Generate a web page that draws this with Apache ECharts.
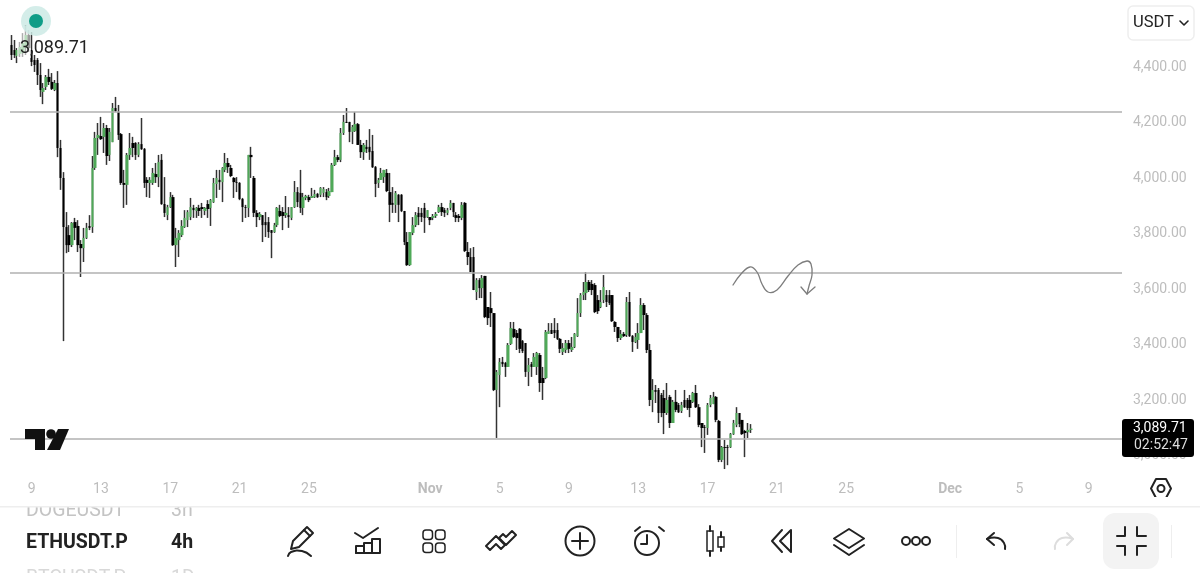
<!DOCTYPE html>
<html>
<head>
<meta charset="utf-8">
<title>ETHUSDT.P 4h</title>
<style>
html,body{margin:0;padding:0;background:#fff;}
#main{width:1200px;height:573px;}
</style>
<script src="https://cdn.jsdelivr.net/npm/echarts@6/dist/echarts.min.js"></script>
</head>
<body>
<div id="main"></div>
<script>
// 4h candles, first bar is Oct 7 20:00
var opens = [
4472,4454,4432,4440,4443,4461,4508,4454,4418,4418,
4364,4303,4321,4357,4339,4310,4335,4101,3993,3816,
3787,3751,3834,3820,3755,3740,3777,3820,3816,4029,
4137,4144,4141,4173,4076,4122,4245,4231,4151,3975,
3968,4076,4119,4119,4076,4115,4097,3986,3975,3975,
4007,3996,4058,3899,3859,3888,3924,3751,3769,3787,
3816,3841,3852,3885,3874,3885,3888,3874,3899,3885,
3906,3971,3986,3978,4022,4047,4029,3993,3978,3975,
3917,3888,3885,4076,3993,3867,3852,3859,3834,3834,
3805,3798,3823,3874,3870,3859,3859,3849,3888,3942,
3939,3885,3921,3924,3921,3924,3935,3932,3939,3942,
3928,3942,4040,4068,4058,4155,4195,4195,4159,4162,
4187,4112,4086,4105,4105,4090,4032,3975,3986,3996,
4011,3942,3903,3896,3932,3932,3874,3762,3679,3795,
3823,3867,3867,3885,3852,3852,3849,3856,3870,3888,
3877,3867,3885,3903,3859,3856,3849,3903,3726,3708,
3708,3582,3625,3596,3640,3528,3524,3506,3229,3283,
3330,3326,3312,3395,3449,3434,3449,3405,3398,3294,
3322,3312,3312,3355,3272,3272,3431,3445,3445,3445,
3413,3366,3373,3398,3373,3384,3423,3506,3571,3578,
3618,3611,3607,3553,3528,3553,3571,3571,3571,3474,
3456,3416,3431,3427,3546,3423,3402,3409,3434,3535,
3499,3373,3193,3229,3229,3211,3200,3146,3204,3110,
3186,3175,3153,3193,3193,3193,3186,3218,3167,3110,
3095,3092,3175,3178,3204,3117,2977,3023,3023,3023,
3070,3103,3146,3121,3081,3077,3085
];
var closes = [
4436,4436,4454,4465,4479,4508,4461,4411,4400,4364,
4310,4317,4357,4339,4314,4335,4101,3993,3816,3751,
3751,3831,3813,3751,3740,3777,3813,3813,4029,4137,
4148,4133,4173,4072,4159,4245,4234,4148,3975,3968,
4076,4101,4101,4076,4115,4097,3975,3975,3986,4011,
3996,4050,3899,3867,3888,3924,3751,3777,3795,3820,
3849,3870,3888,3877,3885,3874,3881,3885,3881,3913,
3975,3993,3978,4029,4047,4032,4000,3978,3975,3917,
3888,3885,4076,4068,3867,3852,3863,3823,3823,3798,
3795,3823,3885,3856,3856,3867,3852,3888,3942,3906,
3885,3924,3928,3913,3928,3935,3924,3957,3953,3924,
3946,4040,4068,4058,4155,4195,4191,4159,4177,4187,
4112,4086,4112,4097,4086,4032,3971,3986,4011,4022,
3946,3896,3896,3939,3896,3874,3762,3679,3798,3823,
3859,3852,3852,3849,3877,3841,3856,3863,3888,3870,
3867,3877,3903,3870,3849,3849,3896,3730,3708,3654,
3589,3625,3596,3632,3492,3488,3506,3229,3294,3330,
3322,3312,3391,3452,3420,3416,3377,3369,3294,3319,
3312,3348,3362,3254,3254,3438,3441,3431,3434,3413,
3377,3380,3398,3377,3384,3431,3506,3571,3582,3618,
3589,3589,3510,3513,3546,3600,3546,3542,3477,3456,
3416,3431,3423,3546,3423,3402,3420,3434,3535,3499,
3373,3193,3229,3222,3146,3146,3146,3193,3110,3186,
3157,3149,3175,3167,3164,3164,3218,3167,3103,3092,
3092,3175,3200,3204,3121,2977,3023,3020,3020,3070,
3110,3146,3106,3070,3074,3085,3089.71
];
var lows = [
4418,4425,4407,4429,4429,4436,4447,4396,4375,4328,
4285,4259,4310,4328,4310,4306,4068,3950,3405,3722,
3726,3744,3769,3726,3636,3690,3773,3805,3795,4022,
4076,4130,4083,4040,4054,4122,4231,4130,3968,3885,
3896,4058,4068,4058,4068,4094,3957,3924,3921,3968,
3975,3960,3896,3852,3841,3885,3748,3672,3708,3780,
3813,3816,3841,3849,3849,3856,3849,3859,3849,3820,
3903,3921,3950,3906,4014,4011,3996,3921,3942,3913,
3834,3849,3852,3993,3852,3816,3841,3762,3780,3777,
3704,3795,3816,3852,3805,3849,3813,3841,3885,3888,
3867,3859,3913,3906,3921,3921,3921,3924,3924,3913,
3921,3942,4036,4050,4050,4148,4191,4122,4115,4159,
4112,4065,4058,4083,4058,4029,3924,3957,3986,3975,
3942,3834,3867,3867,3834,3870,3751,3676,3676,3787,
3816,3823,3834,3795,3849,3823,3841,3849,3867,3856,
3852,3859,3877,3852,3834,3834,3841,3726,3679,3654,
3589,3553,3560,3560,3488,3463,3456,3225,3056,3167,
3312,3276,3312,3391,3416,3373,3362,3362,3276,3243,
3276,3312,3283,3222,3193,3268,3431,3431,3416,3409,
3362,3355,3362,3362,3366,3380,3420,3492,3553,3553,
3582,3571,3506,3503,3524,3542,3528,3535,3474,3438,
3402,3409,3420,3420,3420,3366,3398,3377,3434,3445,
3362,3171,3149,3182,3110,3131,3070,3139,3092,3110,
3149,3146,3146,3164,3157,3131,3182,3164,3095,3023,
3002,3067,3167,3178,3113,2969,2969,2944,2958,3020,
3067,3095,3095,3067,2987,3056,3074
];
var highs = [
4508,4490,4461,4483,4515,4544,4526,4519,4436,4425,
4407,4335,4364,4386,4371,4346,4378,4130,4014,3870,
3823,3834,3849,3841,3769,3813,3831,3859,4072,4159,
4191,4213,4191,4184,4173,4263,4285,4256,4155,4022,
4083,4155,4141,4122,4122,4209,4101,3996,3996,4029,
4047,4076,4079,3996,3896,3942,3932,3813,3805,3841,
3877,3877,3921,3896,3888,3896,3903,3888,3913,3917,
3993,4022,4022,4032,4083,4065,4040,3996,3996,3978,
3921,3896,4076,4105,4000,3877,3870,3859,3870,3852,
3805,3831,3888,3896,3888,3928,3888,3888,3982,3960,
4022,3939,3932,3932,3957,3950,3939,3960,3960,3953,
3957,4047,4094,4076,4173,4220,4245,4195,4184,4231,
4191,4130,4119,4130,4169,4148,4036,3993,4029,4022,
4025,4011,3960,3946,3935,3935,3874,3798,3798,3852,
3870,3888,3885,3903,3877,3852,3863,3870,3896,3903,
3885,3885,3913,3903,3870,3863,3906,3906,3762,3740,
3744,3632,3632,3643,3640,3528,3582,3506,3301,3344,
3348,3330,3398,3474,3474,3445,3452,3409,3398,3344,
3330,3362,3366,3362,3312,3445,3470,3470,3488,3470,
3416,3398,3409,3409,3420,3434,3560,3578,3618,3654,
3625,3625,3614,3571,3589,3643,3589,3589,3571,3477,
3456,3445,3438,3564,3582,3427,3434,3470,3560,3542,
3506,3395,3268,3247,3236,3218,3229,3254,3211,3193,
3229,3182,3186,3229,3200,3211,3222,3247,3178,3110,
3103,3182,3211,3222,3207,3121,3027,3049,3031,3074,
3121,3167,3146,3121,3085,3110,3106
];
var levels = [4232, 3652, 3054];
var tickDates = ['10-9','10-13','10-17','10-21','10-25','11-1','11-5','11-9','11-13','11-17','11-21','11-25','12-1','12-5','12-9'];
var tickLabels = ['9','13','17','21','25','Nov','5','9','13','17','21','25','Dec','5','9'];
var lastPrice = '3,089.71';
var countdown = '02:52:47';

var FONT = 'Roboto, sans-serif';
var GREEN = '#4fa958';
var BAR_COUNT = 385;

// one category per 4h slot, the axis runs on past the last candle
var categories = [];
var start = Date.UTC(2025, 9, 7, 20);
for (var i = 0; i < BAR_COUNT; i++) {
	var d = new Date(start + i * 4 * 3600 * 1000);
	categories.push((d.getUTCMonth() + 1) + '-' + d.getUTCDate() + ' ' + d.getUTCHours());
}

var wickData = [], bodyData = [];
for (var n = 0; n < opens.length; n++) {
	wickData.push([opens[n], closes[n], lows[n], highs[n]]);
	bodyData.push([opens[n], closes[n], Math.min(opens[n], closes[n]), Math.max(opens[n], closes[n])]);
}

function tickLabelOf(category) {
	var parts = category.split(' ');
	if (parts[1] !== '0') return null;
	var at = tickDates.indexOf(parts[0]);
	return at < 0 ? null : tickLabels[at];
}

// screen furniture: app toolbar, price tag, logo
var INK = '#222';
function stroke(color, w) {
	return {stroke: color || INK, lineWidth: w || 2, fill: null, lineCap: 'round', lineJoin: 'round'};
}
function pl(points, color, smooth, w) {
	return {type: 'polyline', z: 100, silent: true, shape: {points: points, smooth: smooth || 0}, style: stroke(color, w)};
}
function closed(points, color) {
	return {type: 'polygon', z: 100, silent: true, shape: {points: points}, style: stroke(color)};
}
function ring(x, y, r, color) {
	return {type: 'circle', z: 100, silent: true, shape: {cx: x, cy: y, r: r}, style: stroke(color)};
}
function box(x, y, w, h, r, fill, line, z) {
	return {type: 'rect', z: z || 100, silent: true, shape: {x: x, y: y, width: w, height: h, r: r},
		style: {fill: fill, stroke: line || null, lineWidth: 1.5}};
}
function txt(s, x, y, size, color, weight) {
	return {type: 'text', z: 101, silent: true, style: {text: s, x: x, y: y, fill: color,
		font: (weight || 'normal') + ' ' + size + 'px ' + FONT, verticalAlign: 'middle'}};
}

var furniture = [
	// pulse dot and price at the top left, the candles fade under them
	box(17, 26, 14, 32, 0, 'rgba(255,255,255,0.6)'),
	{type: 'circle', z: 100, silent: true, shape: {cx: 36, cy: 21, r: 15}, style: {fill: 'rgba(205,234,229,0.85)'}},
	{type: 'circle', z: 100, silent: true, shape: {cx: 36, cy: 21, r: 7}, style: {fill: '#0f9d87'}},
	txt(lastPrice, 20, 48, 18, '#222'),
	// hand drawn arrow
	pl([[733,285],[741,274],[750,267],[757,272],[762,284],[768,292],[777,290],[788,276],[798,265],[807,261],[811,264],[812,275],[809,286],[807,294]], '#7d7d7d', 0.4, 1.3),
	pl([[801,287],[807,294],[815,287]], '#7d7d7d', 0, 1.3),
	// logo
	{type: 'polygon', z: 100, silent: true, shape: {points: [[25,429],[45,429],[45,450],[35,450],[35,439],[25,439]]}, style: {fill: '#111'}},
	{type: 'circle', z: 100, silent: true, shape: {cx: 51, cy: 434, r: 4.8}, style: {fill: '#111'}},
	{type: 'polygon', z: 100, silent: true, shape: {points: [[58,429],[69,429],[60,450],[47,450]]}, style: {fill: '#111'}},
	// unit button
	box(1128, 6, 66, 34, 5, '#fff', '#eeeeee'),
	txt('USDT', 1133, 23, 16.5, '#222'),
	pl([[1180,21],[1184,25],[1188,21]], '#222', 0, 1.6),
	// price tag
	box(1122, 419, 72, 38, 3, '#000'),
	txt(lastPrice, 1133, 428, 14, '#fff'),
	txt(countdown, 1134, 445, 14, '#ddd'),
	// symbol list under the chart, scrolled so the neighbours are cut off
	txt('DOGEUSDT', 26, 511, 19.5, '#c4c4c4'),
	txt('3h', 171, 511, 19.5, '#c4c4c4'),
	txt('BTCUSDT.P', 26, 579, 19.5, '#d8d8d8'),
	txt('1D', 171, 579, 19.5, '#d8d8d8'),
	box(0, 497, 1200, 10, 0, '#fff', null, 102),
	box(0, 506, 1200, 1.5, 0, '#eeeeee', null, 103),
	txt('ETHUSDT.P', 26, 543, 19.5, '#222', 'bold'),
	txt('4h', 171, 543, 19.5, '#222', 'bold'),
	// settings hexagon
	closed([[1151,488.5],[1156,479],[1166,479],[1171,488.5],[1166,498],[1156,498]]),
	ring(1161, 488.5, 3.5),
	// pen
	closed([[291,549],[293,541],[307,527],[313,533],[299,547]]),
	pl([[304,530],[310,536]]),
	pl([[288,556],[291,552],[302,551],[311,556]], INK, 0.5),
	// indicators
	pl([[355,533],[363,538],[378,528]]),
	pl([[356,553],[356,546],[364,546],[364,553]]),
	pl([[364,553],[364,543],[372,543],[372,553]]),
	pl([[372,553],[372,539],[380,539],[380,553],[356,553]]),
	// templates
	box(423, 530, 9.5, 9.5, 3, null, INK), box(435.5, 530, 9.5, 9.5, 3, null, INK),
	box(423, 543, 9.5, 9.5, 3, null, INK), box(435.5, 543, 9.5, 9.5, 3, null, INK),
	// trend
	closed([[486,546],[496,536],[505,545],[501,549],[496,544],[490,550]]),
	closed([[499,538],[503,534],[506,537],[512,531],[516,535],[506,545]]),
	// add
	ring(580, 541, 14.5),
	pl([[572,541],[588,541]]), pl([[580,533],[580,549]]),
	// alarm
	ring(647, 543, 12),
	pl([[647,535],[647,544],[641,544]]),
	pl([[635,531],[640,527]]), pl([[659,527],[664,531]]),
	// candles
	box(707, 531, 6, 20, 0, null, INK), box(718, 537, 6, 10, 0, null, INK),
	pl([[710,526],[710,531]]), pl([[710,551],[710,556]]),
	pl([[721,532],[721,537]]), pl([[721,547],[721,551]]),
	// rewind
	pl([[782,530],[772,541],[782,552]]),
	closed([[791,530],[780,541],[791,552]]),
	// layers
	closed([[849,529],[864,538.5],[849,548],[834,538.5]]),
	pl([[834,545],[849,555],[864,545]]),
	// more
	ring(906, 541, 4), ring(916, 541, 4), ring(926, 541, 4),
	// separators
	box(956, 525, 1, 33, 0, '#eeeeee'),
	box(1171, 525, 1, 33, 0, '#eeeeee'),
	// undo and redo
	pl([[994,533],[987,539],[994,545]]),
	pl([[987,539],[998,538],[1004,543],[1005,549]], INK, 0.5),
	pl([[1067,533],[1073,539],[1067,545]], '#dddddd'),
	pl([[1073,539],[1062,538],[1056,543],[1055,549]], '#dddddd', 0.5),
	// exit fullscreen
	box(1103, 513, 56, 56, 12, '#f3f3f3'),
	pl([[1117,536],[1125,536],[1125,527]]),
	pl([[1137,527],[1137,536],[1146,536]]),
	pl([[1117,546],[1125,546],[1125,555]]),
	pl([[1146,546],[1137,546],[1137,555]])
];

var myChart = echarts.init(document.getElementById('main'));
var option = {
	animation: false,
	backgroundColor: '#fff',
	textStyle: {fontFamily: FONT},
	grid: {left: 10, right: 78, top: 9.5, height: 499.5},
	xAxis: {
		type: 'category',
		data: categories,
		axisLine: {show: false},
		axisTick: {show: false},
		splitLine: {show: false},
		axisLabel: {
			inside: true,
			margin: 13,
			fontSize: 14,
			color: '#bdbdbd',
			interval: function (index, value) {
				return tickLabelOf(value) !== null;
			},
			formatter: function (value) {
				var label = tickLabelOf(value);
				return (label === 'Nov' || label === 'Dec') ? '{month|' + label + '}' : label;
			},
			rich: {month: {fontWeight: 'bold', fontSize: 14, color: '#bdbdbd', fontFamily: FONT}}
		}
	},
	yAxis: {
		type: 'value',
		position: 'right',
		min: 2800,
		max: 4600,
		interval: 200,
		axisLine: {show: false},
		axisTick: {show: false},
		splitLine: {show: false},
		axisLabel: {
			showMinLabel: false,
			showMaxLabel: false,
			margin: 11,
			fontSize: 14,
			color: '#bdbdbd',
			formatter: function (v) {
				return '{p|' + v.toLocaleString('en-US', {minimumFractionDigits: 2, maximumFractionDigits: 2}) + '}';
			},
			rich: {p: {fontSize: 14, color: '#bdbdbd', fontFamily: FONT, padding: [4, 0, 0, 0]}}
		}
	},
	series: [
		{
			name: 'wicks',
			type: 'candlestick',
			data: wickData,
			barWidth: 1,
			silent: true,
			itemStyle: {color: '#333', color0: '#333', borderColor: '#333', borderColor0: '#333', borderColorDoji: '#333', borderWidth: 1.5},
			markLine: {
				silent: true,
				symbol: 'none',
				label: {show: false},
				lineStyle: {color: '#b0b0b0', width: 1.5, type: 'solid'},
				data: levels.map(function (v) { return {yAxis: v}; })
			}
		},
		{
			name: 'bodies',
			type: 'candlestick',
			data: bodyData,
			barWidth: 3,
			silent: true,
			itemStyle: {color: GREEN, color0: '#000', borderColor: GREEN, borderColor0: '#000', borderColorDoji: '#000', borderWidth: 0}
		}
	],
	graphic: {elements: furniture}
};
myChart.setOption(option);
</script>
</body>
</html>
